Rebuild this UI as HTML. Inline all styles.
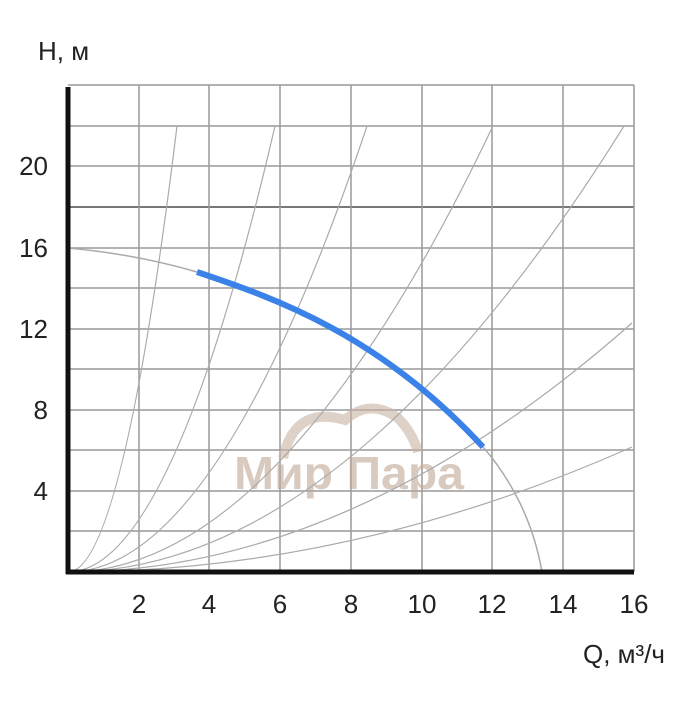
<!DOCTYPE html>
<html><head><meta charset="utf-8"><style>
body{margin:0;background:#fff;width:700px;height:700px;overflow:hidden}
svg text{font-family:"Liberation Sans",sans-serif;fill:#222}
</style></head><body>
<svg width="700" height="700" viewBox="0 0 700 700" xmlns="http://www.w3.org/2000/svg">
<g stroke="#999" stroke-width="1.5" fill="none">
<line x1="68" y1="85" x2="634" y2="85"/>
<line x1="68" y1="126" x2="634" y2="126"/>
<line x1="68" y1="166" x2="634" y2="166"/>
<line x1="68" y1="207" x2="634" y2="207" stroke="#777" stroke-width="2"/>
<line x1="68" y1="248" x2="634" y2="248"/>
<line x1="68" y1="288" x2="634" y2="288"/>
<line x1="68" y1="329" x2="634" y2="329"/>
<line x1="68" y1="369" x2="634" y2="369"/>
<line x1="68" y1="410" x2="634" y2="410"/>
<line x1="68" y1="450" x2="634" y2="450"/>
<line x1="68" y1="491" x2="634" y2="491"/>
<line x1="68" y1="531" x2="634" y2="531"/>
<line x1="139" y1="85" x2="139" y2="572"/>
<line x1="209" y1="85" x2="209" y2="572"/>
<line x1="280" y1="85" x2="280" y2="572"/>
<line x1="351" y1="85" x2="351" y2="572"/>
<line x1="422" y1="85" x2="422" y2="572"/>
<line x1="492" y1="85" x2="492" y2="572"/>
<line x1="563" y1="85" x2="563" y2="572"/>
<line x1="634" y1="85" x2="634" y2="572"/>
</g>
<g opacity="0.6">
<path d="M283 458 Q295 405 345 420 Q370 398 398 418 Q412 432 418 452" stroke="#c9b3a3" stroke-width="10" fill="none"/>
<text x="349" y="489" text-anchor="middle" font-size="46" font-weight="bold" textLength="230" lengthAdjust="spacingAndGlyphs" style="fill:#c0a797">Мир Пара</text>
</g>
<g stroke="#aaa" stroke-width="1.2" fill="none">
<path d="M68 572 Q122.5 572 177 126"/>
<path d="M68 572 Q171.5 572 275 126"/>
<path d="M68 572 Q217.5 572 367 126"/>
<path d="M68 572 Q280 572 492 128"/>
<path d="M68 572 Q346 572 624 126"/>
<path d="M68 572 Q350 572 632 323"/>
<path d="M68 572 Q350 572 632 447"/>
</g>
<path d="M68 248 Q135 254 197 272" stroke="#aaa" stroke-width="1.5" fill="none"/>
<path d="M483 447 C510 478 533 520 542 572" stroke="#aaa" stroke-width="1.5" fill="none"/>
<path d="M197 272 C275 298 380 335 483 447" stroke="#3b82e8" stroke-width="6" fill="none"/>
<line x1="68" y1="87" x2="68" y2="574" stroke="#111" stroke-width="5"/>
<line x1="66" y1="572" x2="634" y2="572" stroke="#111" stroke-width="5"/>
<g font-size="26">
<text x="38" y="60">H, м</text>
<text x="48" y="175" text-anchor="end">20</text>
<text x="48" y="257" text-anchor="end">16</text>
<text x="48" y="338" text-anchor="end">12</text>
<text x="48" y="419" text-anchor="end">8</text>
<text x="48" y="500" text-anchor="end">4</text>
<text x="139" y="613" text-anchor="middle">2</text>
<text x="209" y="613" text-anchor="middle">4</text>
<text x="280" y="613" text-anchor="middle">6</text>
<text x="351" y="613" text-anchor="middle">8</text>
<text x="422" y="613" text-anchor="middle">10</text>
<text x="492" y="613" text-anchor="middle">12</text>
<text x="563" y="613" text-anchor="middle">14</text>
<text x="634" y="613" text-anchor="middle">16</text>
<text x="583" y="663">Q, м³/ч</text>
</g>
</svg>
</body></html>
